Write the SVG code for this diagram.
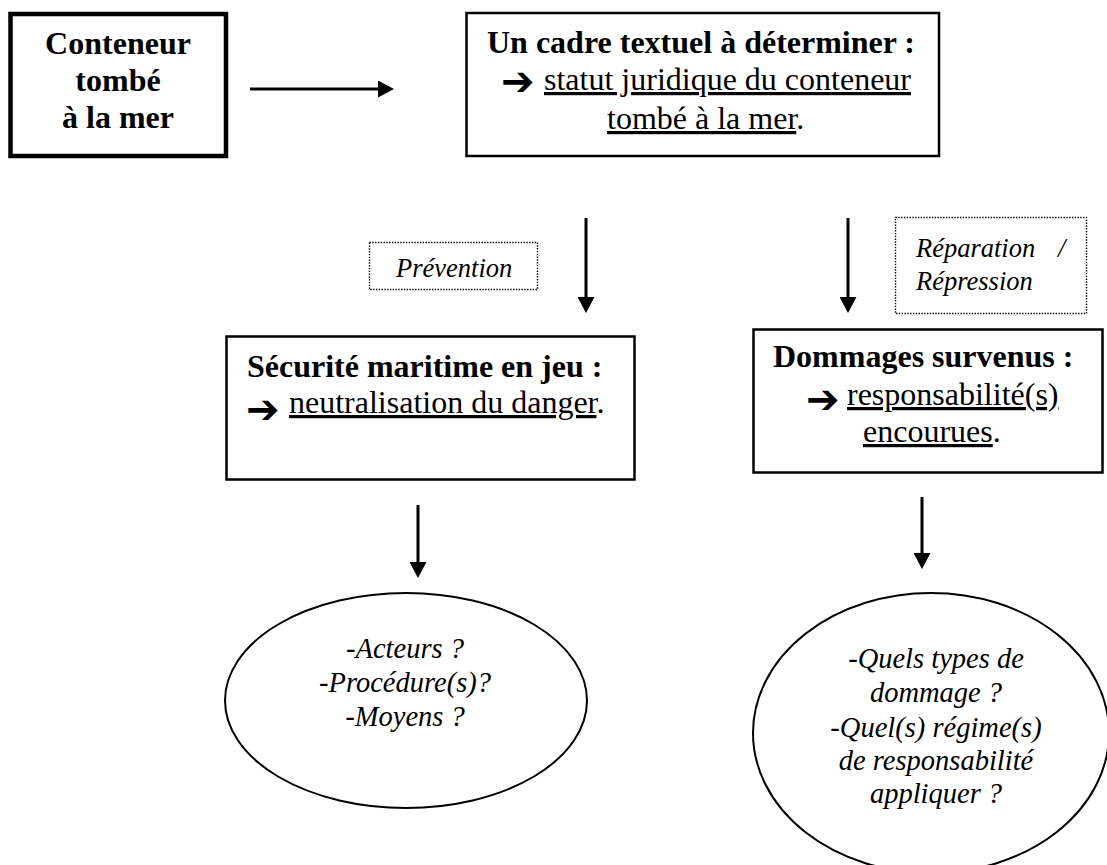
<svg xmlns="http://www.w3.org/2000/svg" width="1107" height="865" viewBox="0 0 1107 865">
<style>
.box{fill:#fff;stroke:#000;stroke-width:2.5}
.thick{stroke-width:4.5}
.dot{fill:#fff;stroke:#000;stroke-width:1.4;stroke-dasharray:1.4 1.4}
.ell{fill:#fff;stroke:#000;stroke-width:2}
.b{font-family:"Liberation Serif","Times New Roman",serif;font-weight:bold;font-size:32px;fill:#000}
.r{font-family:"Liberation Serif","Times New Roman",serif;font-size:32px;fill:#000}
.i{font-family:"Liberation Serif","Times New Roman",serif;font-style:italic;font-size:26.5px;fill:#000}
.ie{font-family:"Liberation Serif","Times New Roman",serif;font-style:italic;font-size:28.5px;fill:#000}
.arr{font-family:"DejaVu Sans",sans-serif;font-weight:bold;font-size:40px;fill:#000}
.u{text-decoration:underline}
.c{stroke:#000;stroke-width:3;fill:none;marker-end:url(#ah)}
</style>
<defs>
<marker id="ah" markerUnits="userSpaceOnUse" markerWidth="16" markerHeight="17" refX="0" refY="8.5" orient="auto">
<path d="M0,0 L16,8.5 L0,17 z" fill="#000"/>
</marker>
</defs>
<g id="connectors">
<line class="c" x1="250" y1="89" x2="378" y2="89"/>
<line class="c" x1="586" y1="218" x2="586" y2="297"/>
<line class="c" x1="848" y1="218" x2="848" y2="297"/>
<line class="c" x1="418" y1="505" x2="418" y2="562"/>
<line class="c" x1="922" y1="497" x2="922" y2="553"/>
</g>
<g id="n1">
<rect class="box thick" x="10.5" y="14" width="215.5" height="142"/>
<text class="b" text-anchor="middle" x="118" y="54">Conteneur</text>
<text class="b" text-anchor="middle" x="118" y="91">tombé</text>
<text class="b" text-anchor="middle" x="118" y="128">à la mer</text>
</g>
<g id="n2">
<rect class="box" x="466.5" y="13" width="472.5" height="143"/>
<text class="b" text-anchor="middle" x="701" y="53">Un cadre textuel à déterminer :</text>
<text class="arr" x="501" y="95">➔</text>
<text class="r" x="544" y="90"><tspan class="u">statut juridique du conteneur</tspan></text>
<text class="r" x="607" y="129"><tspan class="u">tombé à la mer</tspan>.</text>
</g>
<g id="n-prevention">
<rect class="dot" x="369.5" y="242.5" width="168" height="47"/>
<text class="i" x="396" y="277">Prévention</text>
</g>
<g id="n-reparation">
<rect class="dot" x="895.5" y="217.5" width="191" height="96"/>
<text class="i" x="916" y="257">Réparation<tspan x="1058">/</tspan></text>
<text class="i" x="916" y="290">Répression</text>
</g>
<g id="n3">
<rect class="box" x="226.5" y="336.5" width="408" height="143"/>
<text class="b" x="247" y="377">Sécurité maritime en jeu :</text>
<text class="arr" x="246" y="423">➔</text>
<text class="r" x="289" y="413"><tspan class="u">neutralisation du danger</tspan>.</text>
</g>
<g id="n4">
<rect class="box" x="753.5" y="329.5" width="349" height="143"/>
<text class="b" x="773" y="367">Dommages survenus :</text>
<text class="arr" x="806" y="413">➔</text>
<text class="r" x="847" y="405"><tspan class="u">responsabilité(s)</tspan></text>
<text class="r" x="863" y="442"><tspan class="u">encourues</tspan>.</text>
</g>
<g id="n5">
<ellipse class="ell" cx="406" cy="700.5" rx="181" ry="107.5"/>
<text class="ie" text-anchor="middle" x="405" y="658">-Acteurs ?</text>
<text class="ie" text-anchor="middle" x="405" y="692">-Procédure(s)?</text>
<text class="ie" text-anchor="middle" x="405" y="726">-Moyens ?</text>
</g>
<g id="n6">
<ellipse class="ell" cx="931" cy="733" rx="178" ry="140"/>
<text class="ie" text-anchor="middle" x="936" y="668">-Quels types de</text>
<text class="ie" text-anchor="middle" x="936" y="702">dommage ?</text>
<text class="ie" text-anchor="middle" x="936" y="737">-Quel(s) régime(s)</text>
<text class="ie" text-anchor="middle" x="936" y="770">de responsabilité</text>
<text class="ie" text-anchor="middle" x="936" y="803">appliquer ?</text>
</g>
</svg>
